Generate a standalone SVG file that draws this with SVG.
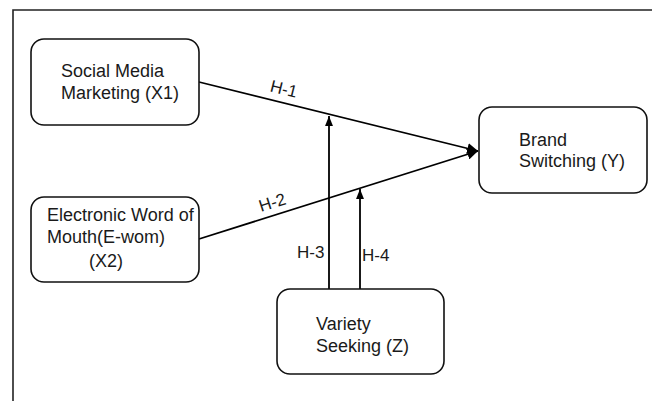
<svg xmlns="http://www.w3.org/2000/svg" width="652" height="401" viewBox="0 0 652 401">
<defs>
<style>
.box{fill:#fff;stroke:#111;stroke-width:1.6}
.t{font-family:"Liberation Sans",Arial,sans-serif;font-size:18px;fill:#1a1a1a}
.l{font-family:"Liberation Sans",Arial,sans-serif;font-size:17px;fill:#1a1a1a}
.c{stroke:#000;stroke-width:1.8;fill:none}
</style>
<marker id="ah" viewBox="0 0 10 10" refX="10" refY="5" markerWidth="6" markerHeight="6" orient="auto" markerUnits="strokeWidth">
<path d="M0,0 L10,5 L0,10 z" fill="#000"/>
</marker>
<marker id="ahs" viewBox="0 0 10 8" refX="10" refY="4" markerWidth="5.5" markerHeight="4.4" orient="auto" markerUnits="strokeWidth">
<path d="M0,0 L10,4 L0,8 z" fill="#000"/>
</marker>
</defs>
<rect width="652" height="401" fill="#fff"/>
<path d="M13,401 L13,10 L652,10" fill="none" stroke="#222" stroke-width="1.6"/>
<g id="connectors">
<line class="c" x1="199" y1="82" x2="478" y2="151" marker-end="url(#ah)"/>
<line class="c" x1="199" y1="239" x2="478" y2="151" marker-end="url(#ah)"/>
<line class="c" x1="329" y1="289" x2="329" y2="116" marker-end="url(#ahs)"/>
<line class="c" x1="360" y1="289" x2="360" y2="189" marker-end="url(#ahs)"/>
<text class="l" text-anchor="middle" transform="translate(282.5,94.5) rotate(14)">H-1</text>
<text class="l" text-anchor="middle" transform="translate(274,208) rotate(-17.5)">H-2</text>
<text class="l" x="297" y="258">H-3</text>
<text class="l" x="362" y="261">H-4</text>
</g>
<g id="smm">
<rect class="box" x="31" y="39" width="168" height="86" rx="13"/>
<text class="t" x="61" y="77">Social Media</text>
<text class="t" x="61" y="99">Marketing (X1)</text>
</g>
<g id="ewom">
<rect class="box" x="31" y="197" width="168" height="85" rx="13"/>
<text class="t" x="47" y="221">Electronic Word of</text>
<text class="t" x="47" y="243">Mouth(E-wom)</text>
<text class="t" x="89" y="267">(X2)</text>
</g>
<g id="brand">
<rect class="box" x="479" y="107" width="168" height="86" rx="13"/>
<text class="t" x="519" y="146">Brand</text>
<text class="t" x="519" y="167">Switching (Y)</text>
</g>
<g id="variety">
<rect class="box" x="277" y="289" width="167" height="85" rx="13"/>
<text class="t" x="316" y="330">Variety</text>
<text class="t" x="316" y="352">Seeking (Z)</text>
</g>
</svg>
